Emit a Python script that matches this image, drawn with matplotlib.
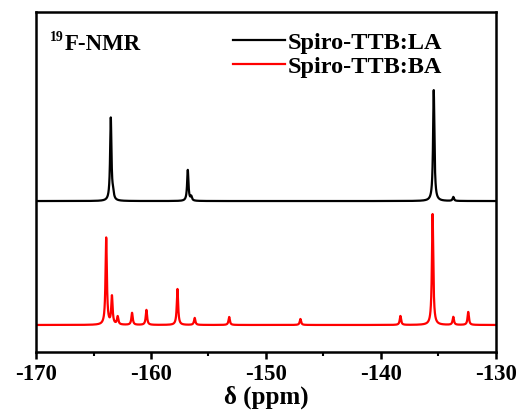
import numpy as np
import matplotlib
matplotlib.use("Agg")
import matplotlib.pyplot as plt
from matplotlib.ticker import MultipleLocator

# peak positions (ppm) and heights (arb. units)
la_pos = [-163.5, -163.3, -156.8, -156.5, -135.4, -133.7]
la_height = [83, 6, 31, 4, 111, 4]
la_offset = 151

ba_pos = [-163.9, -163.4, -162.9, -161.65, -160.4, -157.7, -156.2,
          -153.2, -147.0, -138.3, -135.5, -133.7, -132.4]
ba_height = [87, 28, 8, 12, 15, 36, 7, 8, 6, 9, 111, 8, 13]
ba_offset = 27

ticks = [-170, -160, -150, -140, -130]


def spectrum(x, pos, height, offset, width=0.07):
    y = np.full_like(x, float(offset))
    for p, h in zip(pos, height):
        y += h / (1 + ((x - p) / width) ** 2)
    return y


plt.rcParams["font.family"] = ["Liberation Serif", "DejaVu Serif"]
plt.rcParams["font.weight"] = "bold"
plt.rcParams["axes.unicode_minus"] = False

x = np.linspace(-170, -130, 8000)

fig = plt.figure(figsize=(5.23, 4.19), dpi=100)
ax = fig.add_axes([0.069, 0.160, 0.879, 0.811])
ax.plot(x, spectrum(x, la_pos, la_height, la_offset), color="black", lw=1.6, label="Spiro-TTB:LA")
ax.plot(x, spectrum(x, ba_pos, ba_height, ba_offset), color="red", lw=1.6, label="Spiro-TTB:BA")

ax.set_xlim(-170, -130)
ax.set_ylim(0, 340)
ax.set_xticks(ticks)
ax.xaxis.set_minor_locator(MultipleLocator(5))
ax.set_yticks([])
ax.tick_params(axis="x", which="major", direction="out", length=5, width=1.8, labelsize=16.5, pad=4)
ax.tick_params(axis="x", which="minor", direction="out", length=3, width=1.5)
for s in ax.spines.values():
    s.set_linewidth(1.8)
for lab in ax.get_xticklabels():
    lab.set_fontweight("bold")

ax.set_xlabel("δ (ppm)", fontsize=18, fontweight="bold", labelpad=0)

# 19F-NMR label, superscript drawn as a smaller separate text
ax.text(0.030, 0.944, "19", transform=ax.transAxes, fontsize=10, fontweight="bold",
        va="top", ha="left")
ax.text(0.062, 0.935, "F-NMR", transform=ax.transAxes, fontsize=16.5, fontweight="bold",
        va="top", ha="left")

leg = ax.legend(loc="upper left", bbox_to_anchor=(0.428, 0.943), frameon=False,
                fontsize=17.5, handlelength=2.14, handletextpad=0.1, labelspacing=0.1,
                borderpad=0, borderaxespad=0)
for t in leg.get_texts():
    t.set_fontweight("bold")

fig.savefig("out.png", dpi=100)
